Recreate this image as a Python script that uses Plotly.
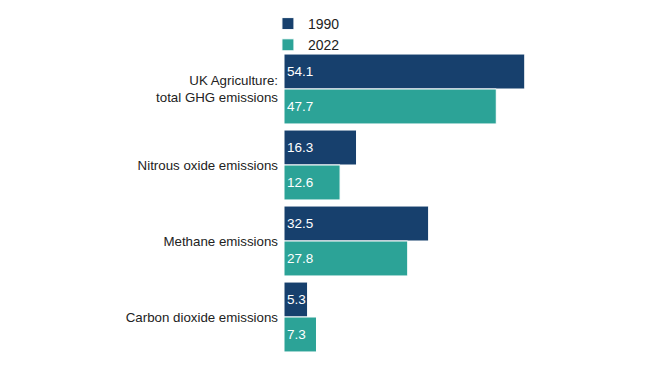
import plotly.graph_objects as go

categories = ["UK Agriculture:<br>total GHG emissions", "Nitrous oxide emissions",
              "Methane emissions", "Carbon dioxide emissions"]
values_1990 = [54.1, 16.3, 32.5, 5.3]
values_2022 = [47.7, 12.6, 27.8, 7.3]
series_names = ["1990", "2022"]
colors = ["#17406D", "#2CA397"]

fig = go.Figure()
for name, vals, col in zip(series_names, [values_1990, values_2022], colors):
    fig.add_trace(go.Bar(
        y=categories, x=vals, name=name, orientation="h",
        marker=dict(color=col, line=dict(color="white", width=1)),
        text=[f"{v:.1f}" for v in vals], textposition="inside",
        insidetextanchor="start", constraintext="none", textangle=0,
        textfont=dict(color="white", size=13.5, family="Liberation Sans, Arial, sans-serif"),
        hoverinfo="skip",
    ))

fig.update_layout(
    width=634, height=350,
    margin=dict(l=276, r=91, t=43, b=3, autoexpand=False),
    barmode="group", bargap=0.08, bargroupgap=0,
    plot_bgcolor="white", paper_bgcolor="white",
    font=dict(family="Liberation Sans, Arial, sans-serif", size=13.3, color="#222222"),
    xaxis=dict(range=[0, 60], visible=False, fixedrange=True),
    yaxis=dict(autorange="reversed", showline=False, showgrid=False, ticks="",
               automargin=False, ticklabelstandoff=5,
               tickfont=dict(size=13.3, color="#222222")),
    legend=dict(xref="container", yref="container", x=0.41, xanchor="left",
                y=1.0, yanchor="top", orientation="v",
                font=dict(size=14, color="#222222"), tracegroupgap=0,
                bgcolor="rgba(0,0,0,0)", itemwidth=30),
    showlegend=True,
)

fig.write_html("out.html")
